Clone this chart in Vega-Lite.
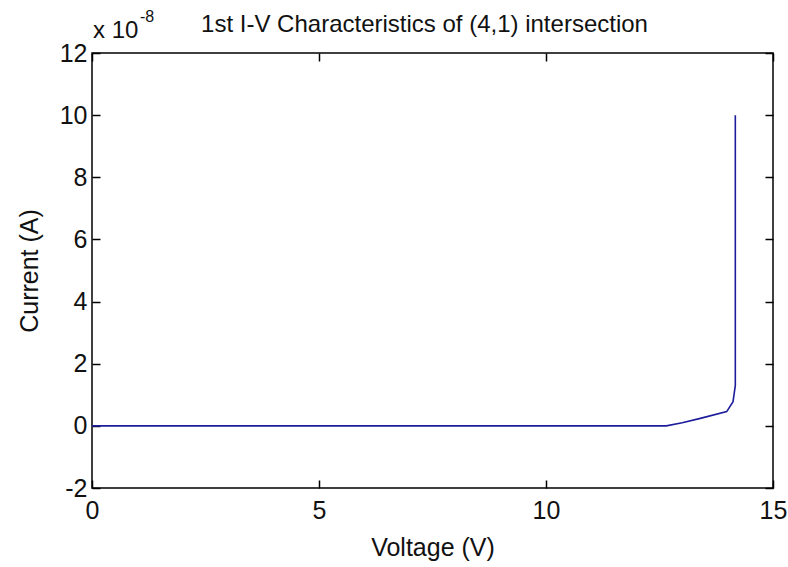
{
  "$schema": "https://vega.github.io/schema/vega-lite/v6.json",
  "width": 681,
  "height": 435,
  "autosize": "none",
  "padding": {"left": 92, "top": 53, "right": 15, "bottom": 79},
  "background": "white",
  "config": {
    "font": "Liberation Sans Narrow, Liberation Sans",
    "view": {"stroke": "black", "strokeWidth": 1.5},
    "axis": {
      "grid": false,
      "domain": false,
      "labelFlush": false,
      "tickColor": "black",
      "tickSize": -8,
      "tickWidth": 1.5,
      "labelColor": "#111",
      "titleColor": "#111",
      "labelFont": "Liberation Sans Narrow, Liberation Sans",
      "titleFont": "Liberation Sans Narrow, Liberation Sans",
      "labelFontSize": 25,
      "titleFontSize": 25,
      "titleFontWeight": "normal"
    }
  },
  "title": {
    "text": "1st I-V Characteristics of (4,1) intersection",
    "fontSize": 24,
    "fontWeight": "normal",
    "font": "Liberation Sans Narrow, Liberation Sans",
    "color": "#111",
    "anchor": "middle",
    "dx": -8,
    "offset": -28
  },
  "data": {
    "values": [
      {"v": 0, "i": 0, "k": 0},
      {"v": 12.65, "i": 0, "k": 1},
      {"v": 13.0, "i": 0.1, "k": 2},
      {"v": 13.4, "i": 0.24, "k": 3},
      {"v": 13.98, "i": 0.46, "k": 4},
      {"v": 14.12, "i": 0.78, "k": 5},
      {"v": 14.17, "i": 1.3, "k": 6},
      {"v": 14.17, "i": 10.0, "k": 7}
    ]
  },
  "resolve": {"axis": {"x": "independent", "y": "independent"}},
  "layer": [
    {
      "mark": {"type": "line", "color": "#1c1c9c", "strokeWidth": 1.6, "clip": true},
      "encoding": {
        "x": {
          "field": "v", "type": "quantitative",
          "scale": {"domain": [0, 15], "nice": false},
          "axis": {"values": [0, 5, 10, 15], "title": "Voltage (V)", "labelPadding": 18, "titlePadding": 12, "orient": "bottom"}
        },
        "y": {
          "field": "i", "type": "quantitative",
          "scale": {"domain": [-2, 12], "nice": false, "zero": false},
          "axis": {"values": [-2, 0, 2, 4, 6, 8, 10, 12], "labelExpr": "replace(datum.label, '−', '-')", "title": "Current (A)", "labelPadding": 13, "titlePadding": 17, "orient": "left"}
        },
        "order": {"field": "k", "type": "quantitative"}
      }
    },
    {
      "mark": {"type": "line", "color": "#1c1c9c", "strokeWidth": 1.6, "opacity": 0},
      "encoding": {
        "x": {
          "field": "v", "type": "quantitative",
          "scale": {"domain": [0, 15], "nice": false},
          "axis": {"values": [0, 5, 10, 15], "title": null, "labels": false, "orient": "top"}
        },
        "y": {
          "field": "i", "type": "quantitative",
          "scale": {"domain": [-2, 12], "nice": false, "zero": false},
          "axis": {"values": [-2, 0, 2, 4, 6, 8, 10, 12], "title": null, "labels": false, "orient": "right"}
        },
        "order": {"field": "k", "type": "quantitative"}
      }
    },
    {
      "data": {"values": [{"v": 0, "i": 12, "t": "x 10"}]},
      "mark": {"type": "text", "align": "left", "baseline": "alphabetic", "dy": -15, "dx": 1, "fontSize": 24, "font": "Liberation Sans Narrow, Liberation Sans", "color": "#111"},
      "encoding": {
        "x": {"field": "v", "type": "quantitative", "scale": {"domain": [0, 15]}, "axis": null},
        "y": {"field": "i", "type": "quantitative", "scale": {"domain": [-2, 12]}, "axis": null},
        "text": {"field": "t"}
      }
    },
    {
      "data": {"values": [{"v": 0, "i": 12, "t": "-8"}]},
      "mark": {"type": "text", "align": "left", "baseline": "alphabetic", "dy": -31, "dx": 48, "fontSize": 16, "font": "Liberation Sans Narrow, Liberation Sans", "color": "#111"},
      "encoding": {
        "x": {"field": "v", "type": "quantitative", "scale": {"domain": [0, 15]}, "axis": null},
        "y": {"field": "i", "type": "quantitative", "scale": {"domain": [-2, 12]}, "axis": null},
        "text": {"field": "t"}
      }
    }
  ]
}
